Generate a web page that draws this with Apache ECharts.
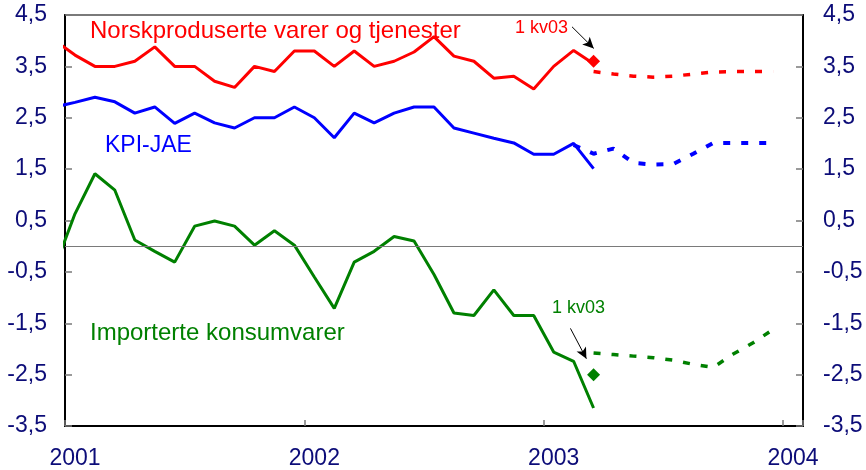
<!DOCTYPE html>
<html>
<head>
<meta charset="utf-8">
<script src="https://cdn.jsdelivr.net/npm/echarts@6/dist/echarts.min.js"></script>
<style>
  html, body { margin: 0; padding: 0; background: #fff; }
  #chart { width: 866px; height: 470px; }
</style>
</head>
<body>
<div id="chart"></div>
<script>
// months with observed values (Dec 2000 - Mar 2003)
var months = ['2000-12',
  '2001-01','2001-02','2001-03','2001-04','2001-05','2001-06','2001-07','2001-08','2001-09','2001-10','2001-11','2001-12',
  '2002-01','2002-02','2002-03','2002-04','2002-05','2002-06','2002-07','2002-08','2002-09','2002-10','2002-11','2002-12',
  '2003-01','2003-02','2003-03'];
var norsk = [4.00,
  3.72, 3.50, 3.50, 3.60, 3.88, 3.50, 3.50, 3.21, 3.09, 3.50, 3.40, 3.80,
  3.80, 3.50, 3.80, 3.50, 3.60, 3.78, 4.08, 3.70, 3.60, 3.27, 3.31, 3.06,
  3.50, 3.81, 3.55];
var kpiJae = [2.71,
  2.80, 2.90, 2.81, 2.59, 2.71, 2.39, 2.59, 2.40, 2.30, 2.50, 2.50, 2.71,
  2.50, 2.11, 2.59, 2.40, 2.59, 2.71, 2.71, 2.30, 2.20, 2.10, 2.01, 1.79,
  1.79, 2.00, 1.51];
var importert = [-0.40,
  0.63, 1.41, 1.09, 0.12, -0.10, -0.31, 0.39, 0.49, 0.39, 0.02, 0.30, 0.02,
  -0.60, -1.21, -0.31, -0.10, 0.19, 0.10, -0.55, -1.30, -1.35, -0.85, -1.35, -1.35,
  -2.06, -2.24, -3.15];

// projections (dashed)
var fcMonths = ['2003-03','2003-04','2003-05','2003-06','2003-07','2003-08','2003-09','2003-10','2003-11','2003-12'];
var norskFc = [3.40, 3.35, 3.31, 3.29, 3.31, 3.35, 3.39, 3.40, 3.40, 3.40];
var importertFc = [-2.08, -2.11, -2.14, -2.17, -2.22, -2.30, -2.36, -2.10, -1.88, -1.62];
var kpiFcMonths = ['2003-02','2003-03','2003-04','2003-05','2003-06','2003-07','2003-08','2003-09','2003-10','2003-11','2003-12'];
var kpiJaeFc = [1.97, 1.80, 1.90, 1.62, 1.59, 1.60, 1.80, 2.01, 2.01, 2.01, 2.01];

// 1 kv03 outcome markers
var kvMonth = '2003-03';
var norskKv = 3.60;
var importertKv = -2.50;

// arrows: [month position, value] start and end
var arrowNorsk = [[25.42, 4.27], [26.51, 3.85]];
var arrowImport = [[25.34, -1.60], [26.14, -2.19]];

var yTicks = { min: -3.5, max: 4.5, step: 1 };
var firstYear = 2001;

function mpos(m) {
    var p = m.split('-');
    return (+p[0] - firstYear) * 12 + (+p[1] - 1) + 0.5;
}
function pairs(ms, vs) {
    return ms.map(function (m, i) { return [mpos(m), vs[i]]; });
}
function yLab(v) { return v.toFixed(1).replace('.', ','); }

var font = "'Liberation Sans', Arial, sans-serif";
var navy = '#0c0c78';

var chart = echarts.init(document.getElementById('chart'));
var option = {
    animation: false,
    backgroundColor: '#fff',
    textStyle: { fontFamily: font },
    grid: {
        left: 65, right: 63, top: 15, bottom: 44,
        show: true, borderColor: '#7a7a7a', borderWidth: 2
    },
    xAxis: {
        type: 'value', min: 0, max: 37, interval: 12,
        axisLine: { onZero: false, lineStyle: { color: '#000', width: 2 } },
        axisTick: { inside: true, length: 6, lineStyle: { color: '#7a7a7a', width: 1.5 } },
        splitLine: { show: false },
        axisLabel: {
            color: navy, fontSize: 23, fontFamily: font, margin: 21,
            padding: [0, 0, 0, 20],
            formatter: function (v) {
                return (v % 12 === 0 && v <= 36) ? String(firstYear + v / 12) : '';
            }
        }
    },
    yAxis: [{
        type: 'value', position: 'left',
        min: yTicks.min, max: yTicks.max, interval: yTicks.step,
        axisLine: { show: true, onZero: false, lineStyle: { color: '#000', width: 2 } },
        axisTick: { show: true, inside: true, length: 7, lineStyle: { color: '#7a7a7a', width: 1.5 } },
        splitLine: { show: false },
        axisLabel: { color: navy, fontSize: 23, fontFamily: font, margin: 18, formatter: yLab }
    }, {
        type: 'value', position: 'right',
        min: yTicks.min, max: yTicks.max, interval: yTicks.step,
        axisLine: { show: true, onZero: false, lineStyle: { color: '#000', width: 2 } },
        axisTick: { show: true, inside: true, length: 7, lineStyle: { color: '#7a7a7a', width: 1.5 } },
        splitLine: { show: false },
        axisLabel: { color: navy, fontSize: 23, fontFamily: font, margin: 20, formatter: yLab }
    }],
    series: [
        {
            name: 'Importerte', type: 'line', data: pairs(months, importert),
            showSymbol: false, lineStyle: { color: '#008000', width: 3 },
            markLine: {
                silent: true, symbol: 'none', label: { show: false },
                lineStyle: { color: '#7a7a7a', width: 1, type: 'solid' },
                data: [{ yAxis: 0 }]
            }
        },
        {
            name: 'Norskproduserte', type: 'line', data: pairs(months, norsk),
            showSymbol: false, lineStyle: { color: '#ff0000', width: 3 }
        },
        {
            name: 'KPI-JAE', type: 'line', data: pairs(months, kpiJae),
            showSymbol: false, lineStyle: { color: '#0000ff', width: 3 }
        },
        {
            name: 'Norskproduserte anslag', type: 'line', data: pairs(fcMonths, norskFc),
            showSymbol: false, lineStyle: { color: '#ff0000', width: 3.5, type: [7, 11] }
        },
        {
            name: 'KPI-JAE anslag', type: 'line', data: pairs(kpiFcMonths, kpiJaeFc),
            showSymbol: false, lineStyle: { color: '#0000ff', width: 4, type: [7, 11] }
        },
        {
            name: 'Importerte anslag', type: 'line', data: pairs(fcMonths, importertFc),
            showSymbol: false, lineStyle: { color: '#008000', width: 3.5, type: [7, 11] }
        },
        {
            name: '1 kv03', type: 'scatter', symbol: 'diamond', symbolSize: 13,
            itemStyle: { opacity: 1 },
            data: [
                { value: [mpos(kvMonth), norskKv], itemStyle: { color: '#ff0000' } },
                { value: [mpos(kvMonth), importertKv], itemStyle: { color: '#008000' } }
            ],
            markLine: {
                silent: true, symbol: ['none', 'arrow'], symbolSize: [8, 11],
                label: { show: false },
                lineStyle: { color: '#000', width: 1, type: 'solid' },
                data: [
                    [{ coord: arrowNorsk[0] }, { coord: arrowNorsk[1] }],
                    [{ coord: arrowImport[0] }, { coord: arrowImport[1] }]
                ]
            }
        }
    ],
    graphic: [
        { type: 'text', left: 90, top: 19, style: { text: 'Norskproduserte varer og tjenester', fill: '#ff0000', font: '24px ' + font } },
        { type: 'text', left: 105, top: 134, style: { text: 'KPI-JAE', fill: '#0000ff', font: '23px ' + font } },
        { type: 'text', left: 90, top: 321, style: { text: 'Importerte konsumvarer', fill: '#008000', font: '24px ' + font } },
        { type: 'text', left: 515, top: 19, style: { text: '1 kv03', fill: '#ff0000', font: '18px ' + font } },
        { type: 'text', left: 552, top: 299, style: { text: '1 kv03', fill: '#008000', font: '18px ' + font } }
    ]
};
chart.setOption(option);
</script>
</body>
</html>
